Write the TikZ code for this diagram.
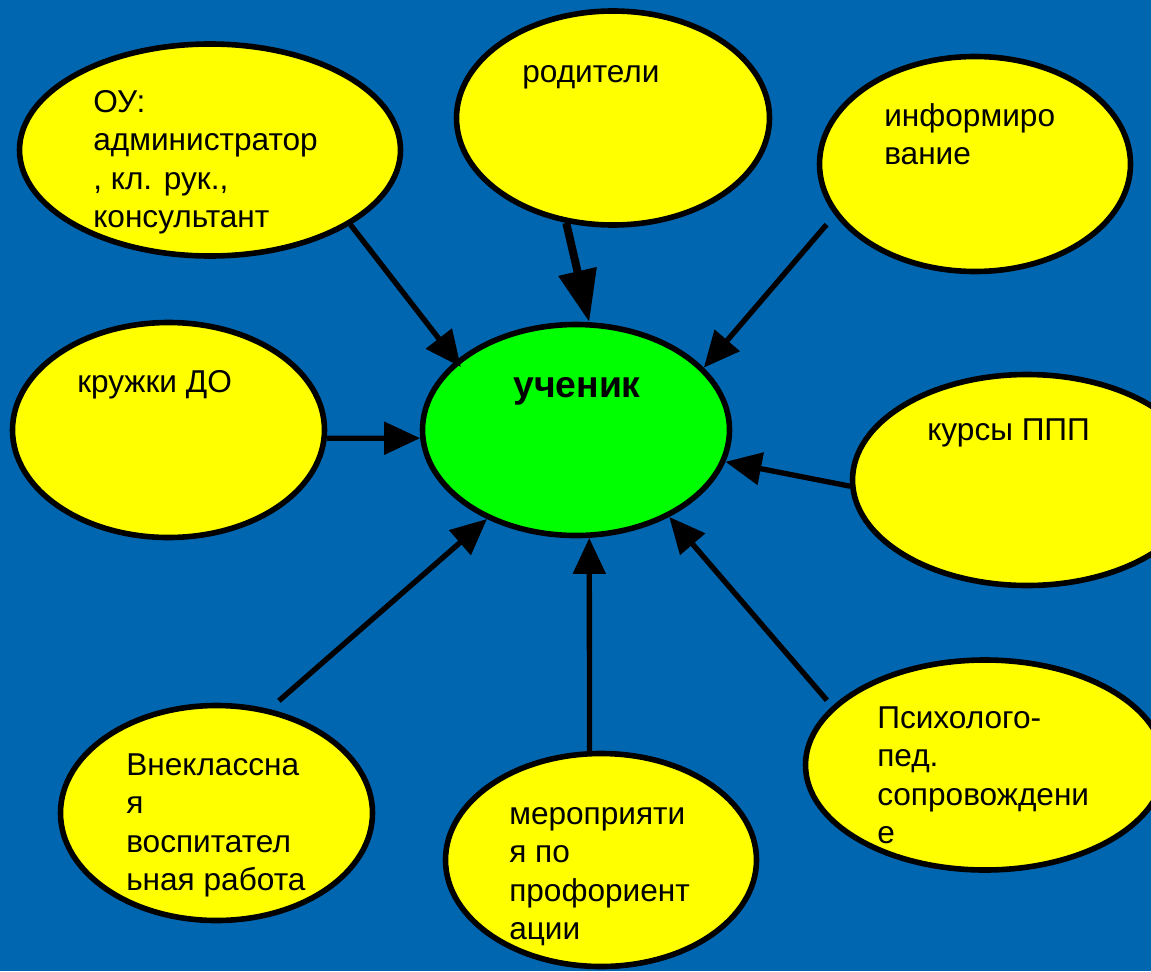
\documentclass[tikz,border=0pt]{standalone}
\usepackage{fontspec}
\setmainfont{Liberation Sans}
\usetikzlibrary{arrows.meta,shapes.geometric}
\definecolor{bgblue}{RGB}{0,102,176}
\definecolor{ylw}{RGB}{255,255,0}
\definecolor{grn}{RGB}{0,255,0}
\newcommand{\mlines}[1]{\vtop{\baselineskip=28.9pt\lineskiplimit=-100pt\halign{##\hfil\cr#1\crcr}}}
\tikzset{
  bubble/.style={ellipse, draw=black, line width=4.2pt, fill=ylw, inner sep=0pt},
  center/.style={bubble, fill=grn},
  lbl/.style={anchor=base west, inner sep=0pt, font=\fontsize{23.7pt}{28.9pt}\selectfont},
  conn/.style={line width=4pt, -{Triangle[length=27pt,width=24pt]}},
  bigconn/.style={line width=6pt, -{Triangle[length=39pt,width=28pt]}}
}
\begin{document}
\begin{tikzpicture}[x=0.75pt,y=-0.75pt]
\useasboundingbox (0,0) rectangle (1151,971);
\clip (0,0) rectangle (1151,971);
\fill[bgblue] (0,0) rectangle (1151,971);

\node[bubble, minimum width=381*0.75pt, minimum height=212*0.75pt] (ou) at (210,150) {};
\node[bubble, minimum width=313*0.75pt, minimum height=214*0.75pt] (rod) at (613,118) {};
\node[bubble, minimum width=311*0.75pt, minimum height=215*0.75pt] (inf) at (975,164) {};
\node[bubble, minimum width=312*0.75pt, minimum height=215*0.75pt] (kr) at (168.5,430) {};
\node[center, minimum width=307*0.75pt, minimum height=211*0.75pt] (u) at (576,430) {};
\node[bubble, minimum width=349*0.75pt, minimum height=211*0.75pt] (kur) at (1027,480) {};
\node[bubble, minimum width=359*0.75pt, minimum height=210*0.75pt] (psy) at (985,765) {};
\node[bubble, minimum width=312*0.75pt, minimum height=215*0.75pt] (vn) at (216.5,813) {};
\node[bubble, minimum width=311*0.75pt, minimum height=213*0.75pt] (mer) at (601,860) {};

\node[lbl] (tou) at (93,112) {\mlines{ОУ:\cr администратор\cr , кл. рук.,\cr консультант}};
\node[lbl] (trod) at (522,82) {родители};
\node[lbl] (tinf) at (884,126) {\mlines{информиро\cr вание}};
\node[lbl] (tkr) at (77,392) {кружки ДО};
\node[lbl, font=\fontsize{28pt}{30pt}\selectfont\bfseries] (tu) at (513,397) {ученик};
\node[lbl] (tkur) at (927,440) {курсы ППП};
\node[lbl] (tpsy) at (877,728) {\mlines{Психолого-\cr пед.\cr сопровождени\cr е}};
\node[lbl] (tvn) at (126,775) {\mlines{Внеклассна\cr я\cr воспитател\cr ьная работа}};
\node[lbl] (tmer) at (509,824) {\mlines{мероприяти\cr я по\cr профориент\cr ации}};

\draw[conn, shorten >=-6pt] (ou.-28.5) -- (u.150.1);
\draw[bigconn] (rod.-114.8) -- (u.83.8);
\draw[conn, shorten <=9.4pt] (inf.-160.3) -- (u.26.2);
\draw[conn] (kr.-3.6) -- (u.183.6);
\draw[conn] (kur.182.3) -- (u.-12.2);
\draw[conn, shorten <=6pt] (psy.159.8) -- (u.-43.7);
\draw[conn, shorten <=9.4pt] (vn.63.8) -- (u.-135.3);
\draw[conn] (mer.96.9) -- (u.-83.8);
\end{tikzpicture}
\end{document}
